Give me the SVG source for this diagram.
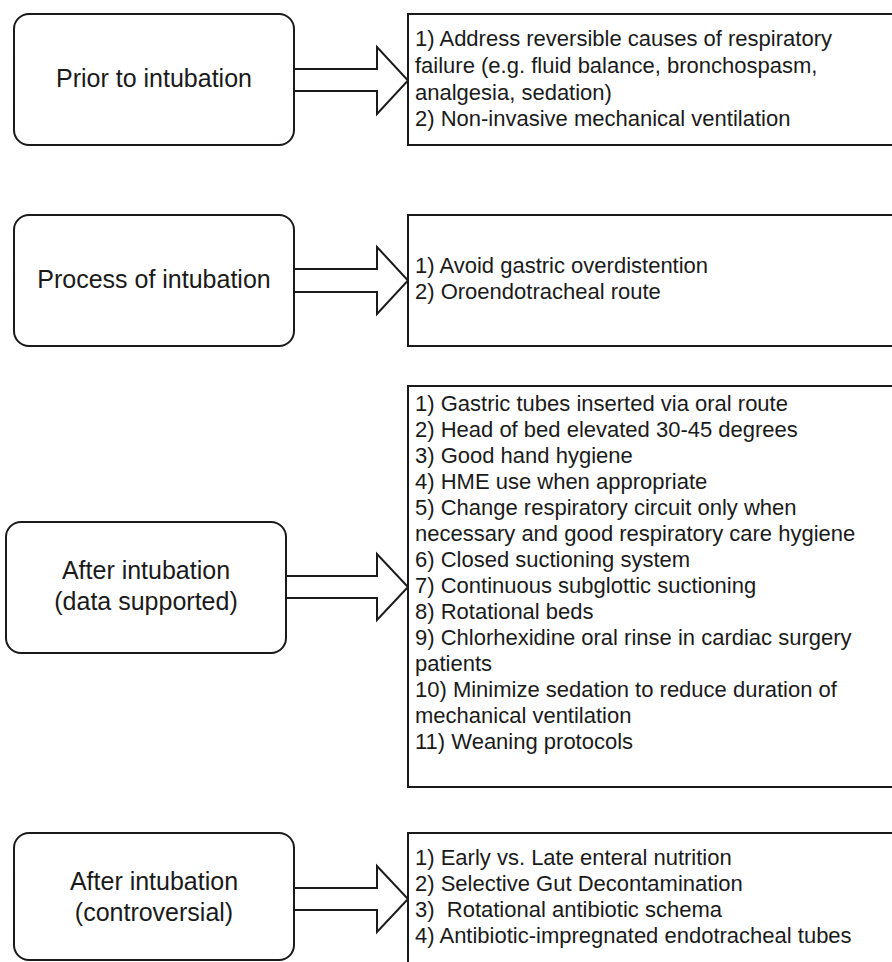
<svg xmlns="http://www.w3.org/2000/svg" width="892" height="962" viewBox="0 0 892 962">
<style>
.node{fill:#fff;stroke:#1a1a1a;stroke-width:2}
.arrow{fill:#fff;stroke:#1a1a1a;stroke-width:2;stroke-linejoin:miter}
.lt{font-family:"Liberation Sans",Arial,sans-serif;font-size:25px;fill:#1a1a1a;text-anchor:middle}
.rt{font-family:"Liberation Sans",Arial,sans-serif;font-size:22px;fill:#1a1a1a;white-space:pre}
</style>
<rect width="892" height="962" fill="#fff"/>
<g id="connectors">
<polygon class="arrow" points="294,69 377,69 377,47 408,80.5 377,114 377,91 294,91"/>
<polygon class="arrow" points="294,269 377,269 377,247 408,280.5 377,314 377,292 294,292"/>
<polygon class="arrow" points="286,576 377,576 377,554 408,587 377,620 377,598 286,598"/>
<polygon class="arrow" points="294,888 377,888 377,866 408,899 377,932 377,910 294,910"/>
</g>
<g id="prior">
<rect class="node" x="14" y="14" width="280" height="131" rx="15"/>
<text class="lt" x="154" y="87">Prior to intubation</text>
</g>
<g id="prior-list">
<rect class="node" x="408" y="14" width="500" height="131"/>
<text class="rt" x="415" y="46">1) Address reversible causes of respiratory</text>
<text class="rt" x="415" y="73">failure (e.g. fluid balance, bronchospasm,</text>
<text class="rt" x="415" y="100">analgesia, sedation)</text>
<text class="rt" x="415" y="126">2) Non-invasive mechanical ventilation</text>
</g>
<g id="process">
<rect class="node" x="14" y="215" width="280" height="131" rx="15"/>
<text class="lt" x="154" y="288">Process of intubation</text>
</g>
<g id="process-list">
<rect class="node" x="408" y="215" width="500" height="131"/>
<text class="rt" x="415" y="273">1) Avoid gastric overdistention</text>
<text class="rt" x="415" y="299">2) Oroendotracheal route</text>
</g>
<g id="after-data">
<rect class="node" x="6" y="522" width="280" height="131" rx="15"/>
<text class="lt" x="146" y="579">After intubation</text>
<text class="lt" x="146" y="610">(data supported)</text>
</g>
<g id="after-data-list">
<rect class="node" x="408" y="386" width="500" height="401"/>
<text class="rt" x="415" y="411">1) Gastric tubes inserted via oral route</text>
<text class="rt" x="415" y="437">2) Head of bed elevated 30-45 degrees</text>
<text class="rt" x="415" y="463">3) Good hand hygiene</text>
<text class="rt" x="415" y="489">4) HME use when appropriate</text>
<text class="rt" x="415" y="515">5) Change respiratory circuit only when</text>
<text class="rt" x="415" y="541">necessary and good respiratory care hygiene</text>
<text class="rt" x="415" y="567">6) Closed suctioning system</text>
<text class="rt" x="415" y="593">7) Continuous subglottic suctioning</text>
<text class="rt" x="415" y="619">8) Rotational beds</text>
<text class="rt" x="415" y="645">9) Chlorhexidine oral rinse in cardiac surgery</text>
<text class="rt" x="415" y="671">patients</text>
<text class="rt" x="415" y="697">10) Minimize sedation to reduce duration of</text>
<text class="rt" x="415" y="723">mechanical ventilation</text>
<text class="rt" x="415" y="749">11) Weaning protocols</text>
</g>
<g id="after-controversial">
<rect class="node" x="14" y="833" width="280" height="127" rx="15"/>
<text class="lt" x="154" y="890">After intubation</text>
<text class="lt" x="154" y="921">(controversial)</text>
</g>
<g id="after-controversial-list">
<rect class="node" x="408" y="833" width="500" height="150"/>
<text class="rt" x="415" y="865">1) Early vs. Late enteral nutrition</text>
<text class="rt" x="415" y="891">2) Selective Gut Decontamination</text>
<text class="rt" x="415" y="917" xml:space="preserve">3)  Rotational antibiotic schema</text>
<text class="rt" x="415" y="943">4) Antibiotic-impregnated endotracheal tubes</text>
</g>
</svg>
